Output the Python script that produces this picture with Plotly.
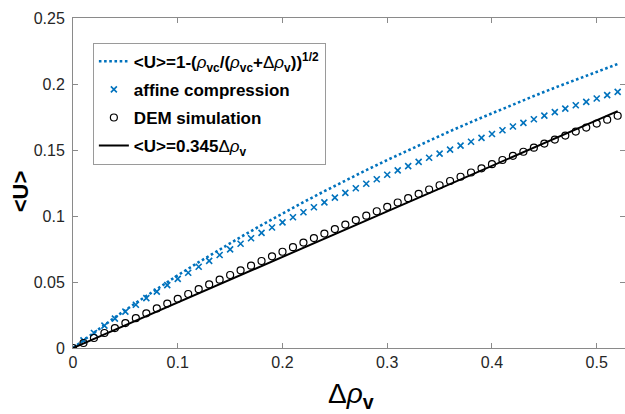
import plotly.graph_objects as go

# Volumetric strain increment (sampling of the compression runs)
delta_rho = [round(0.01 * i, 2) for i in range(53)]

# Affine compression estimate of <U>
u_affine = [0.0, 0.00577, 0.01140, 0.01691, 0.02230, 0.02757, 0.03274, 0.03779,
            0.04274, 0.04759, 0.05234, 0.05699, 0.06156, 0.06605, 0.07044, 0.07476,
            0.07899, 0.08315, 0.08724, 0.09125, 0.09520, 0.09907, 0.10288, 0.10663,
            0.11032, 0.11394, 0.11751, 0.12102, 0.12447, 0.12787, 0.13122, 0.13452,
            0.13777, 0.14097, 0.14412, 0.14723, 0.15029, 0.15331, 0.15629, 0.15922,
            0.16212, 0.16497, 0.16779, 0.17057, 0.17331, 0.17602, 0.17869, 0.18133,
            0.18393, 0.18651, 0.18904, 0.19155, 0.19403]

# DEM simulation results for <U>
u_dem = [0.0, 0.00380, 0.00759, 0.01136, 0.01511, 0.01885, 0.02256, 0.02627,
         0.02996, 0.03363, 0.03728, 0.04092, 0.04454, 0.04814, 0.05173, 0.05531,
         0.05886, 0.06240, 0.06592, 0.06943, 0.07292, 0.07639, 0.07985, 0.08329,
         0.08672, 0.09013, 0.09352, 0.09689, 0.10025, 0.10359, 0.10692, 0.11023,
         0.11352, 0.11680, 0.12006, 0.12331, 0.12653, 0.12974, 0.13294, 0.13612,
         0.13928, 0.14243, 0.14556, 0.14867, 0.15177, 0.15485, 0.15791, 0.16096,
         0.16399, 0.16700, 0.17000, 0.17298, 0.17595]

# Theoretical curve <U> = 1 - (rho_vc / (rho_vc + d rho_v))^(1/2)
theory_x = [0.00, 0.02, 0.04, 0.06, 0.08, 0.10, 0.12, 0.14, 0.16, 0.18, 0.20, 0.22,
            0.24, 0.26, 0.28, 0.30, 0.32, 0.34, 0.36, 0.38, 0.40, 0.42, 0.44, 0.46,
            0.48, 0.50, 0.52]
theory_u = [0.0, 0.01178, 0.02315, 0.03414, 0.04476, 0.05505, 0.06500, 0.07466,
            0.08401, 0.09309, 0.10190, 0.11046, 0.11878, 0.12687, 0.13475, 0.14242,
            0.14988, 0.15715, 0.16424, 0.17115, 0.17789, 0.18448, 0.19090, 0.19718,
            0.20332, 0.20931, 0.21517]

# Linear fit <U> = 0.345 d rho_v
fit_slope = 0.345
fit_x = [0.0, 0.52]
fit_u = [fit_slope * v for v in fit_x]

x_ticks = [0, 0.1, 0.2, 0.3, 0.4, 0.5]
y_ticks = [0, 0.05, 0.1, 0.15, 0.2, 0.25]

BLUE = "#0072BD"
AXIS_GREY = "#8a8a8a"
TEXT = "#262626"
FONT = "Liberation Sans, Arial, sans-serif"
RHO = "<i>ρ</i>"

fig = go.Figure()

fig.add_trace(go.Scatter(
    x=theory_x, y=theory_u, mode="lines", legendgroup="a",
    line=dict(color=BLUE, width=2.6, dash="2.6px,2.6px"),
    name=f"<b>&lt;U&gt;=1-(</b>{RHO}<sub><b>vc</b></sub><b>/(</b>{RHO}<sub><b>vc</b></sub>"
         f"<b>+</b>Δ{RHO}<sub><b>v</b></sub><b>))<sup>1/2</sup></b>",
))
fig.add_trace(go.Scatter(
    x=delta_rho, y=u_affine, mode="markers", legendgroup="b",
    marker=dict(symbol="x-thin", size=6, color=BLUE, line=dict(color=BLUE, width=1.6)),
    name="<b>affine compression</b>",
))
fig.add_trace(go.Scatter(
    x=delta_rho, y=u_dem, mode="markers", legendgroup="c",
    marker=dict(symbol="circle-open", size=7, color="black", line=dict(color="black", width=1.2)),
    name="<b>DEM simulation</b>",
))
fig.add_trace(go.Scatter(
    x=fit_x, y=fit_u, mode="lines", legendgroup="d",
    line=dict(color="black", width=2),
    name=f"<b>&lt;U&gt;=0.345</b>Δ{RHO}<sub><b>v</b></sub>",
))
# carries the right-hand tick marks of the box
fig.add_trace(go.Scatter(x=[None], y=[None], yaxis="y2", showlegend=False, hoverinfo="skip"))

fig.update_layout(
    width=625, height=414,
    margin=dict(l=73, r=0, t=18, b=66),
    paper_bgcolor="white", plot_bgcolor="white",
    font=dict(family=FONT, color=TEXT),
    showlegend=True,
    legend=dict(
        x=0.036, y=0.925, xanchor="left", yanchor="top",
        bgcolor="white", bordercolor="#9a9a9a", borderwidth=1,
        font=dict(family=FONT, size=17, color="black"),
        itemwidth=30, tracegroupgap=3,
    ),
    xaxis=dict(
        range=[0, 0.527], tickvals=x_ticks, ticktext=[str(v) for v in x_ticks],
        ticks="inside", ticklen=5, tickcolor=AXIS_GREY,
        showline=True, linecolor=AXIS_GREY, linewidth=1, mirror="ticks",
        showgrid=False, zeroline=False,
        tickfont=dict(size=16, color=TEXT),
    ),
    yaxis=dict(
        range=[0, 0.25], tickvals=y_ticks, ticktext=[str(v) for v in y_ticks],
        ticks="inside", ticklen=5, tickcolor=AXIS_GREY,
        showline=True, linecolor=AXIS_GREY, linewidth=1,
        showgrid=False, zeroline=False,
        tickfont=dict(size=16, color=TEXT), ticklabelstandoff=4,
    ),
    yaxis2=dict(
        overlaying="y", side="right", range=[0, 0.25], tickvals=y_ticks,
        ticks="inside", ticklen=5, tickcolor=AXIS_GREY,
        showticklabels=False, showline=False, showgrid=False, zeroline=False,
    ),
    annotations=[
        dict(text=f"Δ{RHO}<sub><b>v</b></sub>", xref="paper", yref="paper",
             x=0.504, y=-0.143, xanchor="center", yanchor="middle", showarrow=False,
             font=dict(family=FONT, size=28, color="black")),
        dict(text="<b>&lt;U&gt;</b>", xref="paper", yref="paper",
             x=-0.096, y=0.475, xanchor="center", yanchor="middle", showarrow=False,
             textangle=-90, font=dict(family=FONT, size=22, color="black")),
    ],
)

fig.write_html("out.html")
